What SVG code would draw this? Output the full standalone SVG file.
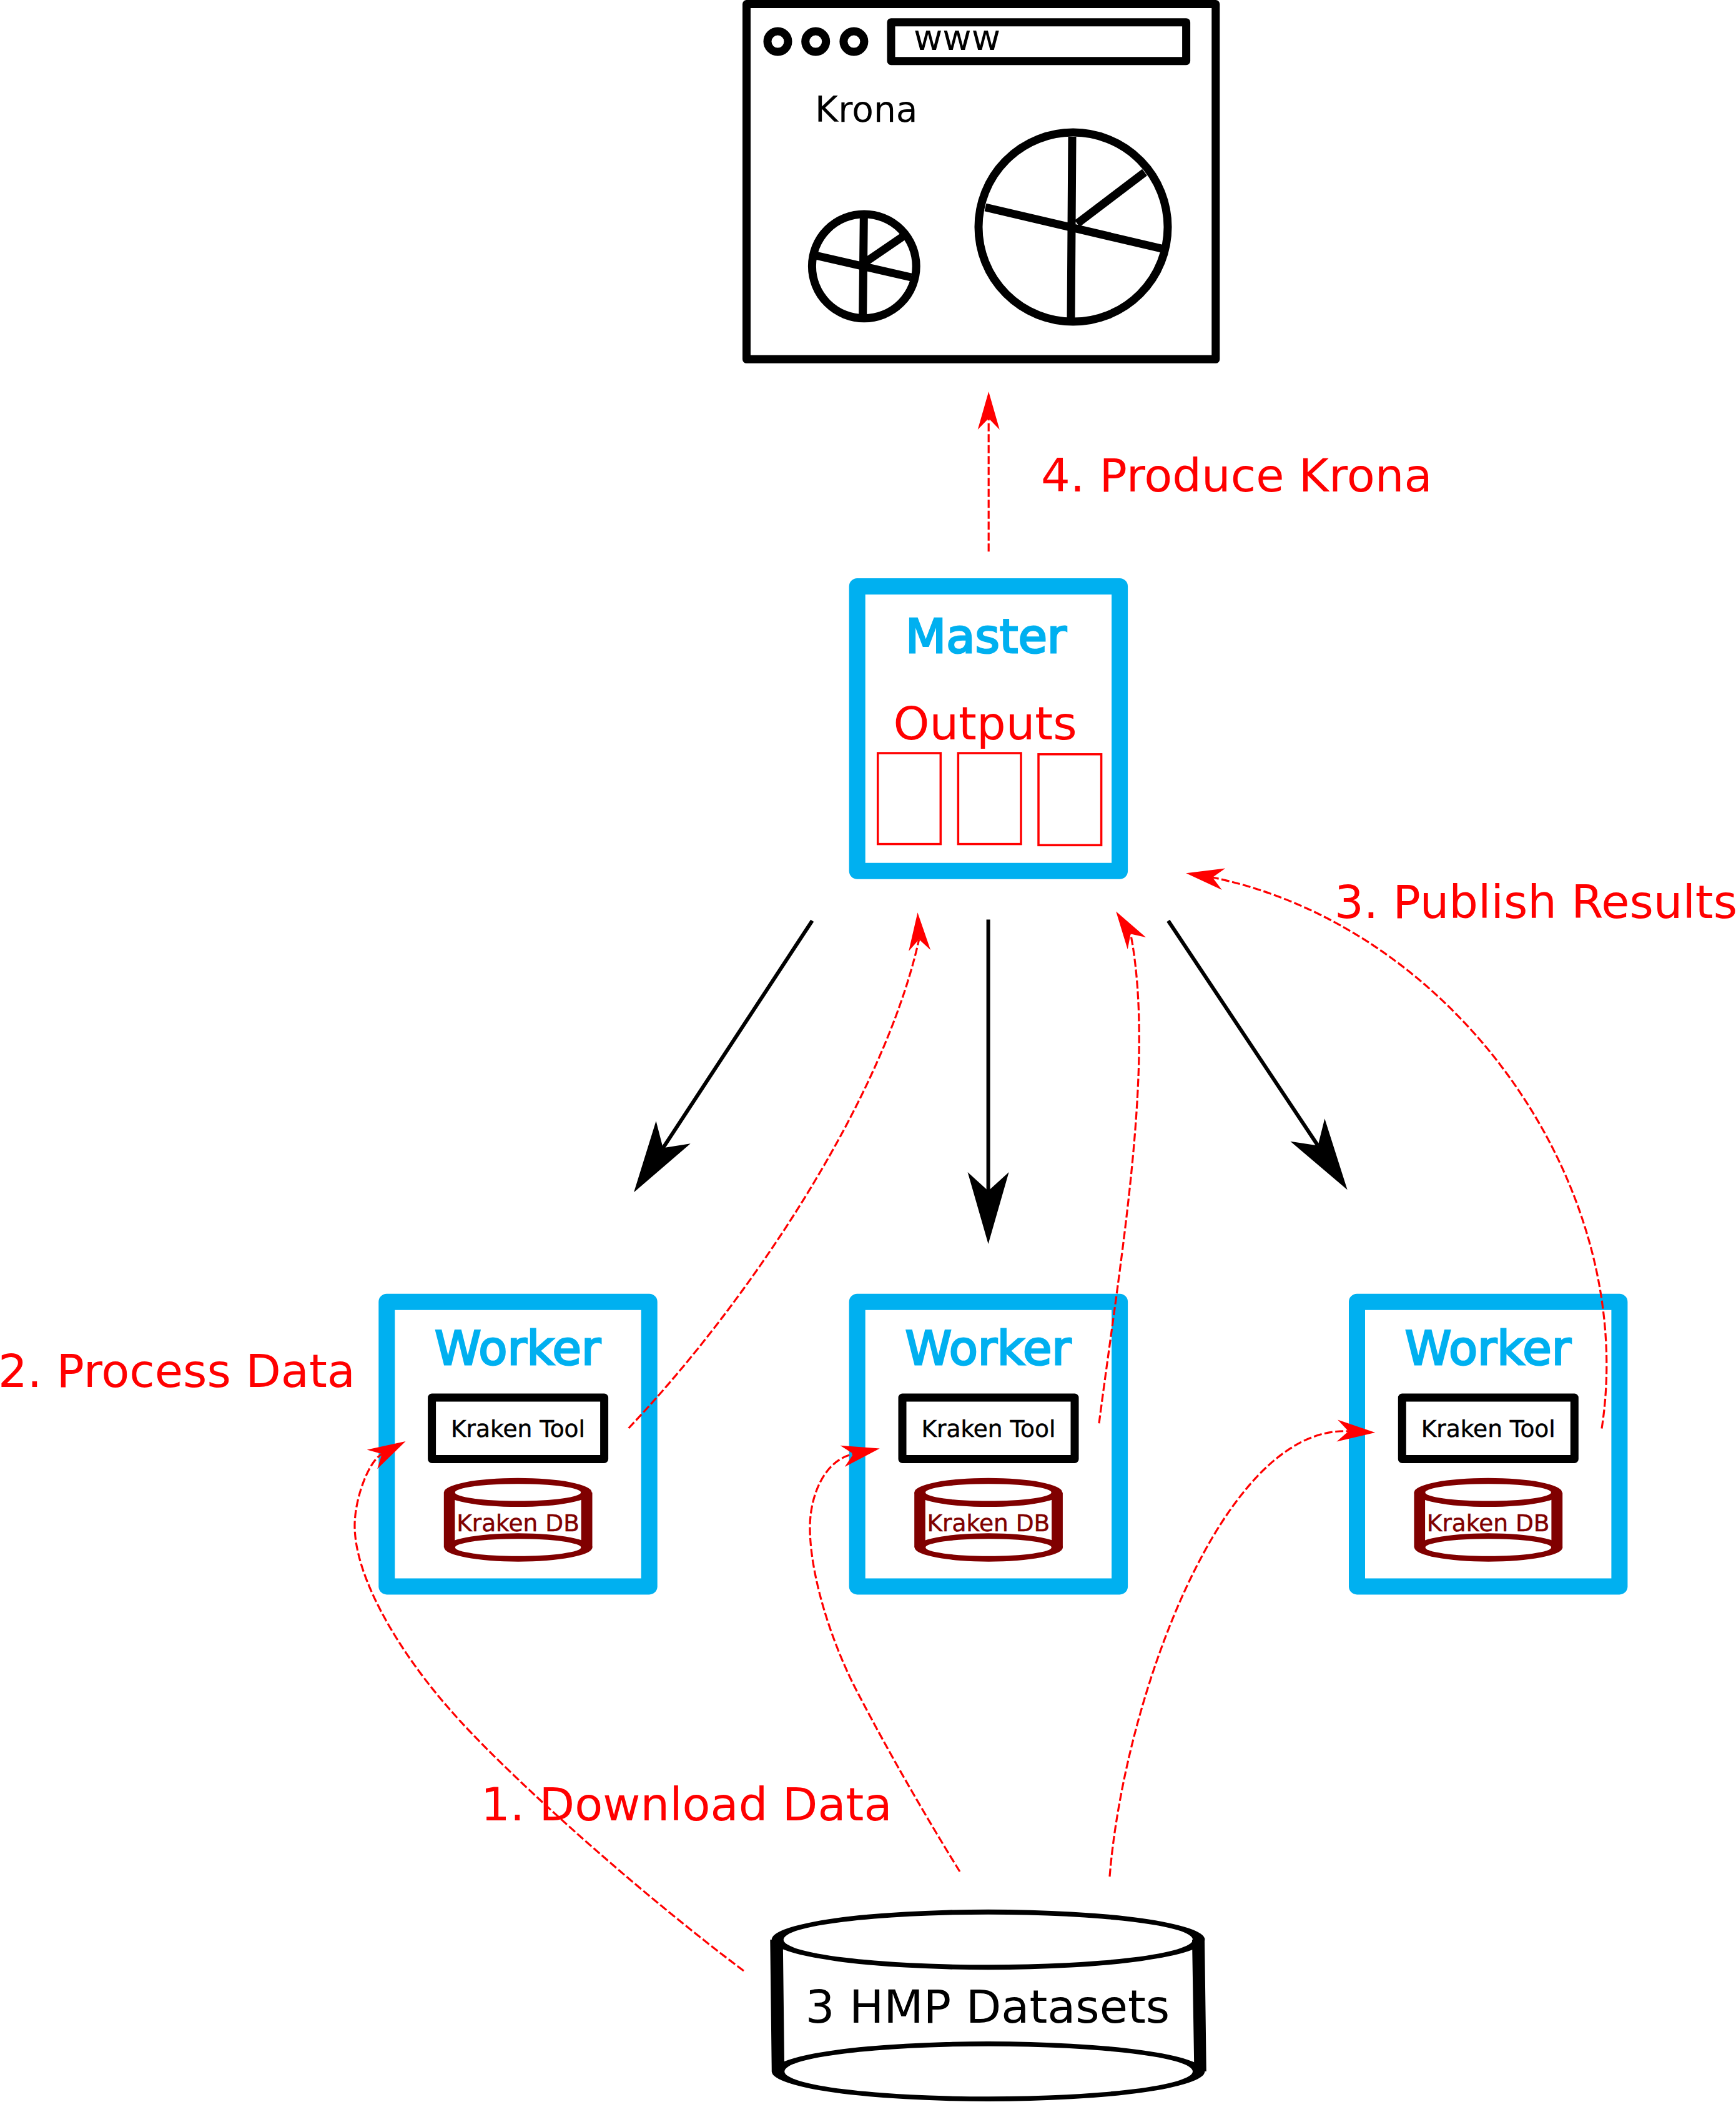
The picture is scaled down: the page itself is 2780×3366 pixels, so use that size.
<svg xmlns="http://www.w3.org/2000/svg" width="2780" height="3366" viewBox="0 0 2780 3366">
<style>
text{font-family:"DejaVu Sans","Liberation Sans",sans-serif}
.blue{fill:#fff;stroke:#00b0f0;stroke-width:26;stroke-linejoin:round}
.title{font-size:75.5px;fill:#00b0f0;stroke:#00b0f0;stroke-width:3;text-anchor:middle}
.tool{fill:#fff;stroke:#000;stroke-width:13;stroke-linejoin:round}
.toolt{font-size:37.5px;fill:#000;stroke:#000;stroke-width:.5;text-anchor:middle}
.dbs{fill:#800000;fill-rule:evenodd}
.dbt{font-size:37.5px;fill:#800000;stroke:#800000;stroke-width:.5;text-anchor:middle}
.lab{font-size:73.6px;fill:#f00}
.out{fill:none;stroke:#f00;stroke-width:3.5}
.k{fill:none;stroke:#000;stroke-width:13;stroke-linejoin:round}
.big{font-size:56.7px;fill:#000}
.hmp{font-size:73.6px;fill:#000;text-anchor:middle}
.solid{fill:none;stroke:#000;stroke-width:6;marker-end:url(#hb)}
.dash{fill:none;stroke:#f00;stroke-width:3.2;stroke-dasharray:13 4.5;marker-end:url(#hr)}
</style>
<defs>
<marker id="hb" markerUnits="userSpaceOnUse" markerWidth="130" markerHeight="80" refX="35" refY="40" orient="auto"><path d="M5,7 L120,40 L5,73 L35,40Z" fill="#000"/></marker>
<marker id="hr" markerUnits="userSpaceOnUse" markerWidth="70" markerHeight="44" refX="18" refY="22" orient="auto"><path d="M0,4.5 L61,22 L0,39.5 L18,22Z" fill="#f00"/></marker>
<marker id="hr-a" markerUnits="userSpaceOnUse" markerWidth="70" markerHeight="44" refX="18" refY="22" orient="-93"><path d="M0,4.5 L61,22 L0,39.5 L18,22Z" fill="#f00"/></marker>
<marker id="hr-b" markerUnits="userSpaceOnUse" markerWidth="70" markerHeight="44" refX="18" refY="22" orient="-123"><path d="M0,4.5 L61,22 L0,39.5 L18,22Z" fill="#f00"/></marker>
<marker id="hr-c" markerUnits="userSpaceOnUse" markerWidth="70" markerHeight="44" refX="18" refY="22" orient="-171"><path d="M0,4.5 L61,22 L0,39.5 L18,22Z" fill="#f00"/></marker>
</defs>
<rect width="2780" height="3366" fill="#fff"/>

<g id="krona-browser">
<rect class="k" x="1195.5" y="6.5" width="751.3" height="568.8"/>
<rect class="k" x="1427" y="35.7" width="472.6" height="62"/>
<circle class="k" cx="1245.5" cy="66.6" r="16.5"/>
<circle class="k" cx="1306.2" cy="66.6" r="16.5"/>
<circle class="k" cx="1367.4" cy="66.6" r="16.5"/>
<text class="big" x="1463" y="80.4">www</text>
<text class="big" x="1305" y="195">Krona</text>
<circle class="k" cx="1718.5" cy="363.6" r="151.5"/>
<path class="k" d="M1717,219 L1715,509 M1578,332 L1860,398 M1725,358 L1833,276"/>
<circle class="k" cx="1383.8" cy="426.3" r="83.4"/>
<path class="k" d="M1383.3,349 L1381.7,504 M1308,409.5 L1459,444 M1387,419 L1445.5,379"/>
</g>

<g id="master">
<rect class="blue" x="1372.7" y="939" width="420.4" height="455.8"/>
<text class="title" x="1579" y="1045">Master</text>
<text class="lab" x="1577.5" y="1184" text-anchor="middle">Outputs</text>
<rect class="out" x="1405.7" y="1206" width="100.6" height="145.6"/>
<rect class="out" x="1534.4" y="1206" width="100.6" height="145.6"/>
<rect class="out" x="1663" y="1207.8" width="100.6" height="145.6"/>
</g>

<g id="worker-1">
<rect class="blue" x="619.3" y="2084.8" width="420.4" height="455.6"/>
<text class="title" x="829" y="2184.7">Worker</text>
<rect class="tool" x="691.6" y="2238" width="276" height="98.5"/>
<text class="toolt" x="829.5" y="2301">Kraken Tool</text>
<path class="dbs" d="M710.8,2389.9a118.5,23.2 0 1,0 237,0a118.5,23.2 0 1,0 -237,0zM728.6,2389.9a100.8,13.6 0 1,0 201.6,0a100.8,13.6 0 1,0 -201.6,0zM711.2,2478a118.7,22.7 0 1,0 237.4,0a118.7,22.7 0 1,0 -237.4,0zM728.8,2478a100.8,13.7 0 1,0 201.6,0a100.8,13.7 0 1,0 -201.6,0z"/>
<path class="dbs" d="M710.8,2389.9h17.6v88h-17.6zM930.7,2389.9h17.8v88h-17.8z"/>
<text class="dbt" x="829.5" y="2451.6">Kraken DB</text>
</g>

<g id="worker-2" transform="translate(753.4,0)">
<rect class="blue" x="619.3" y="2084.8" width="420.4" height="455.6"/>
<text class="title" x="829" y="2184.7">Worker</text>
<rect class="tool" x="691.6" y="2238" width="276" height="98.5"/>
<text class="toolt" x="829.5" y="2301">Kraken Tool</text>
<path class="dbs" d="M710.8,2389.9a118.5,23.2 0 1,0 237,0a118.5,23.2 0 1,0 -237,0zM728.6,2389.9a100.8,13.6 0 1,0 201.6,0a100.8,13.6 0 1,0 -201.6,0zM711.2,2478a118.7,22.7 0 1,0 237.4,0a118.7,22.7 0 1,0 -237.4,0zM728.8,2478a100.8,13.7 0 1,0 201.6,0a100.8,13.7 0 1,0 -201.6,0z"/>
<path class="dbs" d="M710.8,2389.9h17.6v88h-17.6zM930.7,2389.9h17.8v88h-17.8z"/>
<text class="dbt" x="829.5" y="2451.6">Kraken DB</text>
</g>

<g id="worker-3" transform="translate(1553.7,0)">
<rect class="blue" x="619.3" y="2084.8" width="420.4" height="455.6"/>
<text class="title" x="829" y="2184.7">Worker</text>
<rect class="tool" x="691.6" y="2238" width="276" height="98.5"/>
<text class="toolt" x="829.5" y="2301">Kraken Tool</text>
<path class="dbs" d="M710.8,2389.9a118.5,23.2 0 1,0 237,0a118.5,23.2 0 1,0 -237,0zM728.6,2389.9a100.8,13.6 0 1,0 201.6,0a100.8,13.6 0 1,0 -201.6,0zM711.2,2478a118.7,22.7 0 1,0 237.4,0a118.7,22.7 0 1,0 -237.4,0zM728.8,2478a100.8,13.7 0 1,0 201.6,0a100.8,13.7 0 1,0 -201.6,0z"/>
<path class="dbs" d="M710.8,2389.9h17.6v88h-17.6zM930.7,2389.9h17.8v88h-17.8z"/>
<text class="dbt" x="829.5" y="2451.6">Kraken DB</text>
</g>

<g id="hmp-datasets">
<path fill="#000" fill-rule="evenodd" d="M1235.8,3106a346.8,48.3 0 1,0 693.6,0a346.8,48.3 0 1,0 -693.6,0zM1254.7,3106a327.7,40.3 0 1,0 655.4,0a327.7,40.3 0 1,0 -655.4,0zM1235.8,3317a346.8,48 0 1,0 693.6,0a346.8,48 0 1,0 -693.6,0zM1256.2,3317a326.9,40.3 0 1,0 653.8,0a326.9,40.3 0 1,0 -653.8,0z"/>
<path fill="#000" d="M1233.3,3106H1253.7L1256.2,3317H1235.8ZM1909,3106H1929L1931.8,3317H1912.4Z"/>
<text class="hmp" x="1581.5" y="3239.3">3 HMP Datasets</text>
</g>

<g id="labels">
<text class="lab" x="1667" y="787.3">4. Produce Krona</text>
<text class="lab" x="2137" y="1470.3">3. Publish Results</text>
<text class="lab" x="-3" y="2221">2. Process Data</text>
<text class="lab" x="770" y="2915">1. Download Data</text>
</g>

<g id="connectors">
<path class="solid" d="M1300.7,1474.3L1061.7,1838.3"/>
<path class="solid" d="M1582.6,1472.4V1907"/>
<path class="solid" d="M1870.8,1474.5L2110.5,1834.5"/>
<path class="dash" d="M1583.2,883.3V670"/>
<path class="dash" d="M1191,3156C1010,3020 800,2830 720,2737C645,2652 568,2530 568,2443C568,2400 590,2340 611.7,2328.3"/>
<path class="dash" d="M1537,2997C1480,2905 1420,2800 1376.7,2716.7C1330,2630 1297,2520 1297,2446C1297,2395 1320,2338 1366.7,2328.3"/>
<path class="dash" d="M1777,3005C1800,2720 1959,2282 2159.3,2291.9"/>
<path class="dash" style="marker-end:url(#hr-a)" d="M1006.7,2287C1200,2083 1415,1760 1471.7,1504.3"/>
<path class="dash" style="marker-end:url(#hr-b)" d="M1760,2279.3C1795,2010 1850,1700 1810.6,1495.5"/>
<path class="dash" style="marker-end:url(#hr-c)" d="M2565,2287.5C2625,1900 2330,1485 1941.7,1405"/>
</g>
</svg>
